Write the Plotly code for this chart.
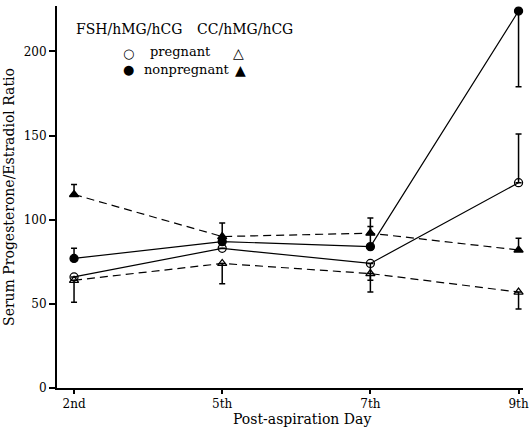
import plotly.graph_objects as go

days = ["2nd", "5th", "7th", "9th"]

fsh_preg = [66, 83, 74, 122]
fsh_preg_up = [0, 0, 0, 29]
fsh_preg_dn = [0, 0, 10, 0]

fsh_nonpreg = [77, 87, 84, 224]
fsh_nonpreg_up = [6, 0, 12, 0]
fsh_nonpreg_dn = [0, 0, 0, 45]

cc_preg = [64, 74, 68, 57]
cc_preg_up = [0, 0, 0, 0]
cc_preg_dn = [13, 12, 11, 10]

cc_nonpreg = [115, 90, 92, 82]
cc_nonpreg_up = [6, 8, 9, 7]
cc_nonpreg_dn = [0, 0, 0, 0]

FONT = "DejaVu Serif, Liberation Serif, serif"

fig = go.Figure()

def add(y, up, dn, symbol, dash):
    fig.add_trace(go.Scatter(
        x=days, y=y, mode="lines+markers",
        line=dict(color="black", width=1.2, dash=dash),
        marker=dict(symbol=symbol, size=8, color="black",
                    line=dict(color="black", width=1.3)),
        error_y=dict(type="data", symmetric=False, array=up, arrayminus=dn,
                     color="black", thickness=1.5, width=3),
        cliponaxis=False, showlegend=False))

add(cc_nonpreg, cc_nonpreg_up, cc_nonpreg_dn, "triangle-up", "8px,5px")
add(cc_preg, cc_preg_up, cc_preg_dn, "triangle-up-open", "8px,5px")
add(fsh_nonpreg, fsh_nonpreg_up, fsh_nonpreg_dn, "circle", "solid")
add(fsh_preg, fsh_preg_up, fsh_preg_dn, "circle-open", "solid")

L, R, T, B = 57, 523, 6, 388

def px2paper(px, py):
    return (px - L) / (R - L), 1 - (py - T) / (B - T)

# legend as text
legend_items = [
    ("FSH/hMG/hCG", 74, 29, "left", 14),
    ("CC/hMG/hCG", 195, 29, "left", 14),
    ("○", 128, 53, "center", 13),
    ("pregnant", 148, 52, "left", 13),
    ("△", 238, 53, "center", 14),
    ("●", 128, 70, "center", 13),
    ("nonpregnant", 142, 69, "left", 13),
    ("▲", 240, 70, "center", 14),
    ("Post-aspiration Day", 302, 419, "center", 14),
]
for text, px, py, anchor, fs in legend_items:
    ax, ay = px2paper(px, py)
    fig.add_annotation(
        text=text, xref="paper", yref="paper", x=ax, y=ay,
        xanchor=anchor, yanchor="middle", showarrow=False,
        font=dict(family=FONT, size=fs, color="black"))

fig.update_layout(
    width=529, height=430,
    margin=dict(l=L, r=529 - R, t=T, b=430 - B),
    paper_bgcolor="white", plot_bgcolor="white",
    font=dict(family=FONT, size=12, color="black"),
    xaxis=dict(type="category", range=[-0.115, 3.03], showgrid=False, zeroline=False,
               automargin=False,
               showline=True, linecolor="black", linewidth=1.5,
               ticks="outside", ticklen=4, tickcolor="black", tickwidth=1.5,
               tickfont=dict(family=FONT, size=12)),
    yaxis=dict(range=[0, 227], showgrid=False, zeroline=False,
               automargin=False,
               showline=True, linecolor="black", linewidth=2,
               ticks="outside", ticklen=6, tickcolor="black", tickwidth=1.5,
               tickfont=dict(family=FONT, size=12),
               tickvals=[0, 50, 100, 150, 200],
               title=dict(text="Serum Progesterone/Estradiol Ratio", standoff=6,
                          font=dict(family=FONT, size=14))),
)

fig.write_html("out.html", config={"displayModeBar": False},
               post_script="document.body.style.margin='0';document.body.style.overflow='hidden';")
